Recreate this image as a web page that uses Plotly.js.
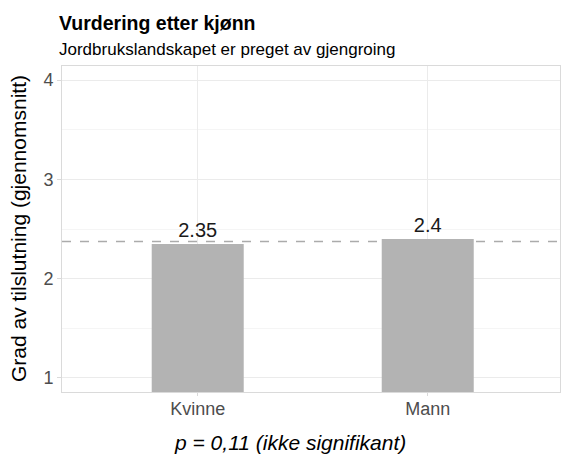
<!DOCTYPE html>
<html>
<head>
<meta charset="utf-8">
<script src="https://cdn.plot.ly/plotly-3.0.1.min.js"></script>
<style>html,body{margin:0;padding:0;background:#fff;}#chart{width:561px;height:454px;}</style>
</head>
<body>
<div id="chart"></div>
<script>
const categories = ["Kvinne", "Mann"];
const meanValues = [2.35, 2.4];
const barLabels = ["2.35", "2.4"];
const overallMean = [2.375];
const yTickValues = [1, 2, 3, 4];
const yTickLabels = ["1", "2", "3", "4"];

const titleText = "Vurdering etter kjønn";
const subtitleText = "Jordbrukslandskapet er preget av gjengroing";
const yTitleText = "Grad av tilslutning (gjennomsnitt)";
const captionText = "p = 0,11 (ikke signifikant)";

const FONT = "Liberation Sans, Arial, sans-serif";

const trace = {
  type: "bar",
  x: categories,
  y: meanValues,
  width: 0.4,
  marker: {color: "#b3b3b3", line: {width: 0}},
  text: barLabels,
  textposition: "outside",
  textfont: {family: FONT, size: 20, color: "#1a1a1a"},
  cliponaxis: false,
  hoverinfo: "skip"
};

const layout = {
  width: 561,
  height: 454,
  margin: {l: 62, r: 1, t: 66, b: 62},
  paper_bgcolor: "#ffffff",
  plot_bgcolor: "#ffffff",
  showlegend: false,
  font: {family: FONT, color: "#4d4d4d"},
  xaxis: {
    type: "category",
    range: [-0.59, 1.575],
    showgrid: true,
    gridcolor: "#ebebeb",
    gridwidth: 1,
    showline: true,
    mirror: true,
    linecolor: "#dadada",
    linewidth: 1,
    ticks: "outside",
    ticklen: 3,
    tickcolor: "#dadada",
    ticklabelstandoff: -3,
    tickfont: {family: FONT, size: 18, color: "#4d4d4d"},
    zeroline: false,
    fixedrange: true
  },
  yaxis: {
    range: [0.859, 4.141],
    tickvals: yTickValues,
    ticktext: yTickLabels,
    showgrid: true,
    gridcolor: "#ebebeb",
    gridwidth: 1,
    minor: {dtick: 0.5, showgrid: true, gridcolor: "#f5f5f5", gridwidth: 1},
    showline: true,
    mirror: true,
    linecolor: "#dadada",
    linewidth: 1,
    ticks: "outside",
    ticklen: 4,
    tickcolor: "#dadada",
    tickfont: {family: FONT, size: 18, color: "#4d4d4d"},
    zeroline: false,
    fixedrange: true
  },
  shapes: [{
    type: "line",
    xref: "paper", x0: 0, x1: 1,
    yref: "y", y0: overallMean[0], y1: overallMean[0],
    line: {color: "#ababab", width: 1.5, dash: "dash"},
    layer: "below"
  }],
  annotations: [
    {
      text: "<b>" + titleText + "</b>",
      xref: "paper", yref: "paper", x: 0, y: 1,
      xanchor: "left", yanchor: "middle", yshift: 43, xshift: -5,
      showarrow: false,
      font: {family: FONT, size: 19.5, color: "#000000"}
    },
    {
      text: subtitleText,
      xref: "paper", yref: "paper", x: 0, y: 1,
      xanchor: "left", yanchor: "middle", yshift: 17, xshift: -5,
      showarrow: false,
      font: {family: FONT, size: 17, color: "#000000"}
    },
    {
      text: yTitleText,
      xref: "paper", yref: "paper", x: 0, y: 0.5,
      xanchor: "center", yanchor: "middle", xshift: -44,
      textangle: -90,
      showarrow: false,
      font: {family: FONT, size: 21, color: "#000000"}
    },
    {
      text: "<i>" + captionText + "</i>",
      xref: "paper", yref: "paper", x: 0.458, y: 0,
      xanchor: "center", yanchor: "middle", yshift: -50,
      showarrow: false,
      font: {family: FONT, size: 21, color: "#000000"}
    }
  ]
};

Plotly.newPlot("chart", [trace], layout, {displayModeBar: false, staticPlot: true});
</script>
</body>
</html>
